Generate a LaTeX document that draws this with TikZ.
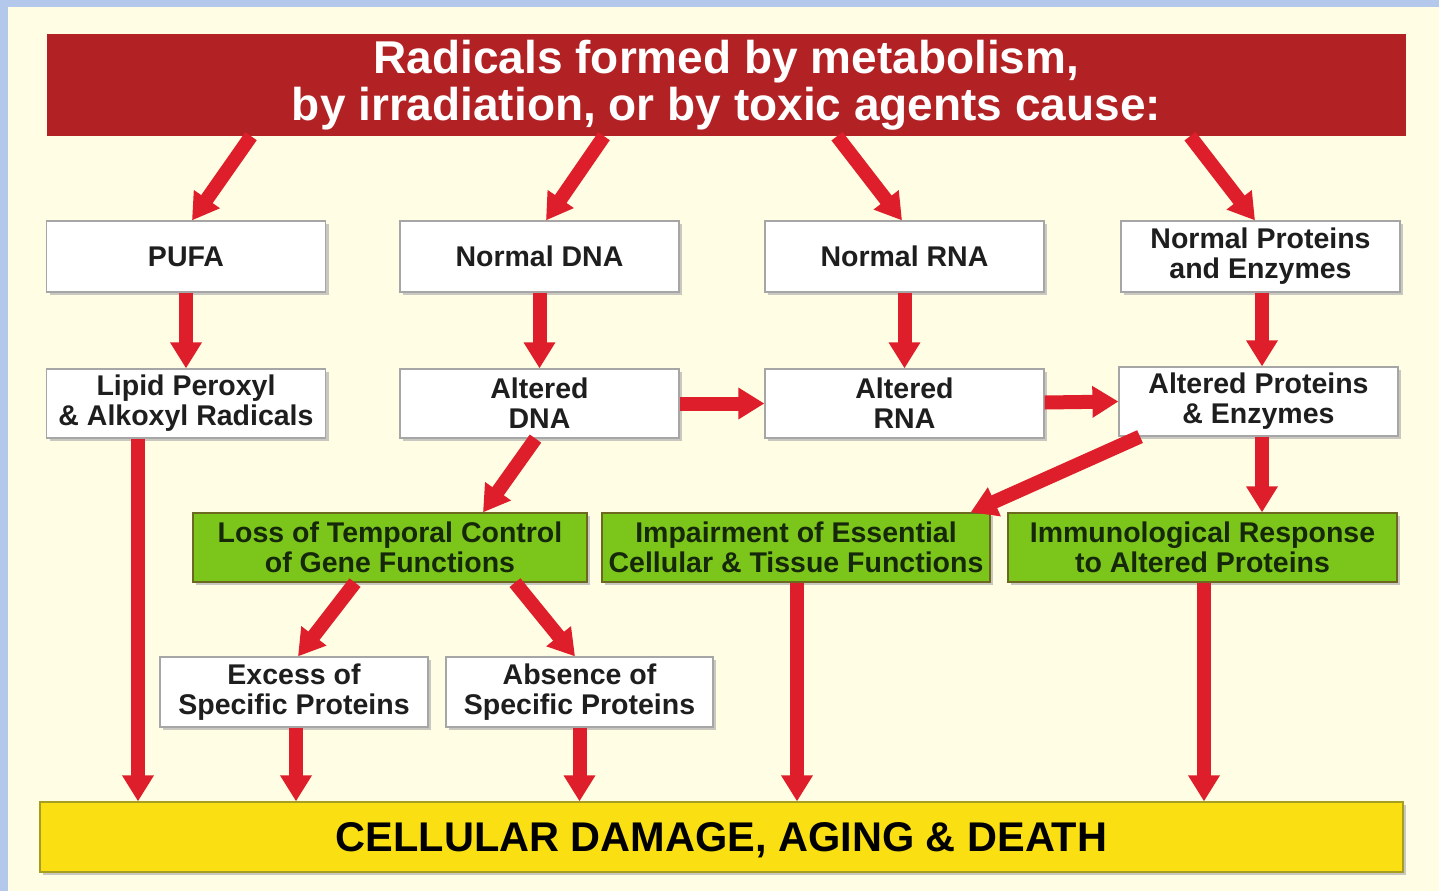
\documentclass[tikz,border=0pt]{standalone}
\usepackage{fontspec}
\setmainfont{Liberation Sans}
\usetikzlibrary{arrows.meta,shadows}

\definecolor{bgcream}{RGB}{255,253,228}
\definecolor{edgeblue}{RGB}{180,200,236}
\definecolor{bannerred}{RGB}{178,34,36}
\definecolor{arrowred}{RGB}{222,30,42}
\definecolor{leafgreen}{RGB}{124,198,28}
\definecolor{sunyellow}{RGB}{250,224,18}
\definecolor{textgreen}{RGB}{22,40,10}
\definecolor{textdark}{RGB}{30,30,30}

\begin{document}
\begin{tikzpicture}[
  x=1pt, y=-1pt,
  box/.style={draw=gray!70, line width=1.2pt, fill=white, text=textdark, align=center, inner sep=0pt,
    minimum width=279pt, minimum height=71pt, font=\fontsize{28.5}{30}\selectfont\bfseries,
    drop shadow={shadow xshift=3pt, shadow yshift=-3pt, fill=gray!60, opacity=0.7}},
  effect/.style={box, fill=leafgreen, draw=olive!70!black, text=textgreen, minimum height=69pt},
  arr/.style={-{Triangle[width=30pt,length=26pt]}, line width=14pt, draw=arrowred}
]
\useasboundingbox (0,0) rectangle (1439,891);
\fill[bgcream] (0,0) rectangle (1439,891);
\fill[edgeblue] (0,0) rectangle (1439,7);
\fill[edgeblue] (0,0) rectangle (8,891);

% source and sink
\node[fill=bannerred, text=white, minimum width=1359pt, minimum height=102pt, inner sep=0pt,
  align=center, font=\fontsize{46}{47}\selectfont\bfseries] (banner) at (726.5,85)
  {Radicals formed by metabolism,\\ by irradiation, or by toxic agents cause:};
\node[box, fill=sunyellow, draw=olive!80, minimum width=1363pt, minimum height=70pt,
  text depth=-4pt, text=black, font=\fontsize{41.5}{42}\selectfont\bfseries] (damage) at (721.5,837)
  {CELLULAR DAMAGE, AGING \& DEATH};

% targets
\node[box] (pufa) at (186,256.5) {PUFA};
\node[box] (ndna) at (539.5,256.5) {Normal DNA};
\node[box] (nrna) at (904.5,256.5) {Normal RNA};
\node[box] (nprot) at (1260.5,256.5) {Normal Proteins\\ and Enzymes};

% altered forms
\node[box, minimum height=69pt] (lipid) at (186,403.5) {Lipid Peroxyl\\ \& Alkoxyl Radicals};
\node[box, minimum height=69pt] (adna) at (539.5,403.5) {Altered\\ DNA};
\node[box, minimum height=69pt] (arna) at (904.5,403.5) {Altered\\ RNA};
\node[box, minimum height=69pt] (aprot) at (1258.5,401.5) {Altered Proteins\\ \& Enzymes};

% effects
\node[effect, minimum width=394pt] (loss) at (390,547.5) {Loss of Temporal Control\\ of Gene Functions};
\node[effect, minimum width=388pt] (impair) at (796,547.5) {Impairment of Essential\\ Cellular \& Tissue Functions};
\node[effect, minimum width=389pt] (immuno) at (1202.5,547.5) {Immunological Response\\ to Altered Proteins};

\node[box, minimum width=268pt, minimum height=70pt] (excess) at (294,692) {Excess of\\ Specific Proteins};
\node[box, minimum width=267pt, minimum height=70pt] (absence) at (579.5,692) {Absence of\\ Specific Proteins};

% arrows
\draw[arr] ([xshift=-475.5pt]banner.south) -- ([xshift=6pt]pufa.north);
\draw[arr] ([xshift=-122.5pt]banner.south) -- ([xshift=6.5pt]ndna.north);
\draw[arr] ([xshift=110.5pt]banner.south) -- ([xshift=-2.5pt]nrna.north);
\draw[arr] ([xshift=463.5pt]banner.south) -- ([xshift=-5.5pt]nprot.north);

\draw[arr] (pufa) -- (lipid);
\draw[arr] (ndna) -- (adna);
\draw[arr] (nrna) -- (arna);
\draw[arr] ([xshift=1.5pt]nprot.south) -- ([xshift=3.5pt]aprot.north);
\draw[arr] (adna) -- (arna);
\draw[arr] ([yshift=1pt]arna.east) -- (aprot.west);

\draw[arr] ([xshift=-4pt]adna.south) -- ([xshift=93pt]loss.north);
\draw[arr] ([xshift=-118.5pt]aprot.south) -- ([xshift=-20pt]impair.north east);
\draw[arr] ([xshift=3.5pt]aprot.south) -- ([xshift=59.5pt]immuno.north);
\draw[arr] ([xshift=-35pt]loss.south) -- ([xshift=4pt]excess.north);
\draw[arr] ([xshift=125pt]loss.south) -- ([xshift=-4.5pt]absence.north);

\draw[arr] ([xshift=-48pt]lipid.south) -- ([xshift=-48pt]lipid.south |- damage.north);
\draw[arr] ([xshift=2pt]excess.south) -- ([xshift=2pt]excess.south |- damage.north);
\draw[arr] (absence.south) -- (absence.south |- damage.north);
\draw[arr] ([xshift=1pt]impair.south) -- ([xshift=1pt]impair.south |- damage.north);
\draw[arr] ([xshift=1.5pt]immuno.south) -- ([xshift=1.5pt]immuno.south |- damage.north);
\end{tikzpicture}
\end{document}
